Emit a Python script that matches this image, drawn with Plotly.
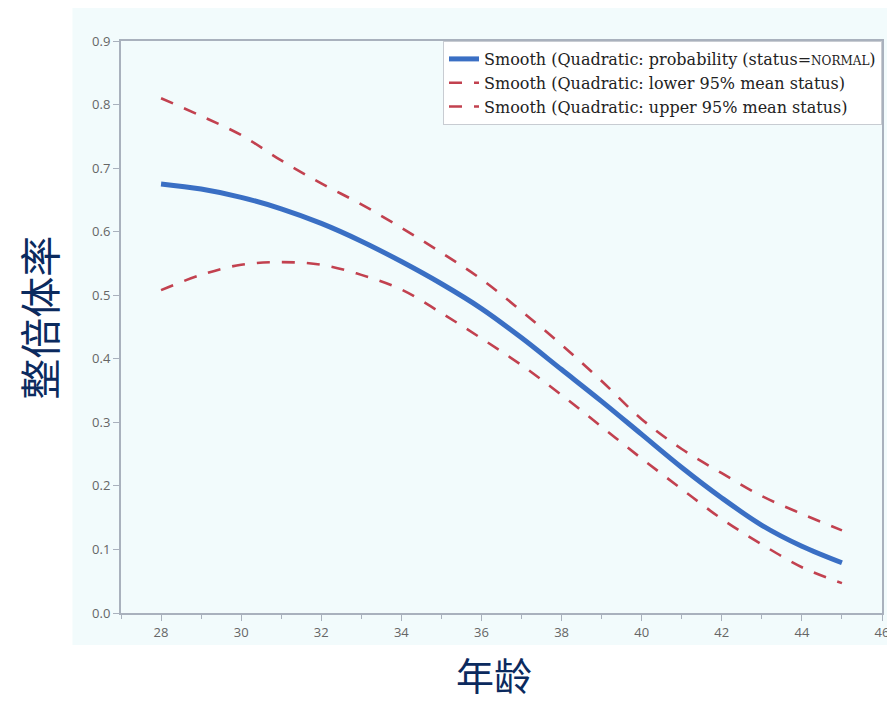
import plotly.graph_objects as go

age = [28, 29, 30, 31, 32, 33, 34, 35, 36, 37, 38, 39, 40, 41, 42, 43, 44, 45]
prob = [0.675, 0.667, 0.654, 0.636, 0.613, 0.585, 0.553, 0.518, 0.479, 0.433, 0.383, 0.333, 0.281, 0.229, 0.181, 0.138, 0.105, 0.079]
lower = [0.508, 0.532, 0.548, 0.552, 0.548, 0.532, 0.509, 0.472, 0.432, 0.390, 0.343, 0.293, 0.243, 0.195, 0.148, 0.108, 0.072, 0.047]
upper = [0.810, 0.782, 0.752, 0.712, 0.676, 0.643, 0.606, 0.567, 0.525, 0.475, 0.422, 0.365, 0.305, 0.258, 0.220, 0.184, 0.156, 0.130]

names = [
    "Smooth (Quadratic: probability (status=<span style='font-size:12px'>NORMAL</span>)",
    "Smooth (Quadratic: lower 95% mean status)",
    "Smooth (Quadratic: upper 95% mean status)",
]

x_ticks = [28, 30, 32, 34, 36, 38, 40, 42, 44, 46]
y_ticks = [0.0, 0.1, 0.2, 0.3, 0.4, 0.5, 0.6, 0.7, 0.8, 0.9]

blue = "#3a6fc4"
red = "#c2414f"
bg = "#f2fbfc"
axis_col = "#a9b1bd"

fig = go.Figure()
fig.add_trace(go.Scatter(x=age, y=prob, mode="lines", name=names[0],
                         line=dict(color=blue, width=5, shape="spline")))
fig.add_trace(go.Scatter(x=age, y=lower, mode="lines", name=names[1],
                         line=dict(color=red, width=2.6, dash="13px,12px", shape="spline")))
fig.add_trace(go.Scatter(x=age, y=upper, mode="lines", name=names[2],
                         line=dict(color=red, width=2.6, dash="13px,12px", shape="spline")))

# page has an 8px body margin, so figure coordinates = page coordinates - 8
OFF = 8
W, H = 887, 695
L, R, T, B = 121 - OFF, W - (889 - OFF), 41 - OFF, H - (613 - OFF)
pw = W - L - R
ph = H - T - B


def px(xp):
    return (xp - OFF - L) / pw


def py(yp):
    return (H - B - (yp - OFF)) / ph


fig.add_shape(type="rect", xref="paper", yref="paper",
              x0=px(72), x1=px(900), y0=py(645), y1=py(0),
              fillcolor=bg, line=dict(width=0), layer="below")

fig.update_layout(
    width=W, height=H,
    margin=dict(l=L, r=R, t=T, b=B),
    paper_bgcolor="white",
    plot_bgcolor=bg,
    showlegend=True,
    legend=dict(x=1, xanchor="right", y=1.0, yanchor="top",
                bgcolor="white", bordercolor="#c8ccd2", borderwidth=1,
                font=dict(family="DejaVu Serif", size=16, color="#222"),
                itemwidth=30, tracegroupgap=0),
    xaxis=dict(range=[27, 46], tickvals=x_ticks, showgrid=False, zeroline=False,
               showline=True, linecolor=axis_col, linewidth=2, mirror=True,
               ticks="outside", ticklen=6, tickcolor=axis_col, tickwidth=1,
               minor=dict(dtick=1, tick0=27, ticks="outside", ticklen=4, tickcolor=axis_col),
               tickfont=dict(family="Open Sans", size=13, color="#666")),
    yaxis=dict(range=[0, 0.9], tickvals=y_ticks, tickformat=".1f", showgrid=False, zeroline=False,
               showline=True, linecolor=axis_col, linewidth=2, mirror=True,
               ticks="outside", ticklen=6, tickcolor=axis_col, tickwidth=1,
               tickfont=dict(family="Open Sans", size=13, color="#666")),
    annotations=[
        dict(text="年龄", xref="paper", yref="paper", x=px(497), y=py(673),
             showarrow=False, font=dict(family="Noto Sans CJK SC", size=38, color="#0b2a5e"),
             xanchor="center", yanchor="middle"),
        dict(text="整倍体率", xref="paper", yref="paper", x=px(37), y=py(318),
             showarrow=False, textangle=-90, font=dict(family="Noto Sans CJK SC", size=41, color="#0b2a5e"),
             xanchor="center", yanchor="middle"),
    ],
)

fig.write_html("out.html")
